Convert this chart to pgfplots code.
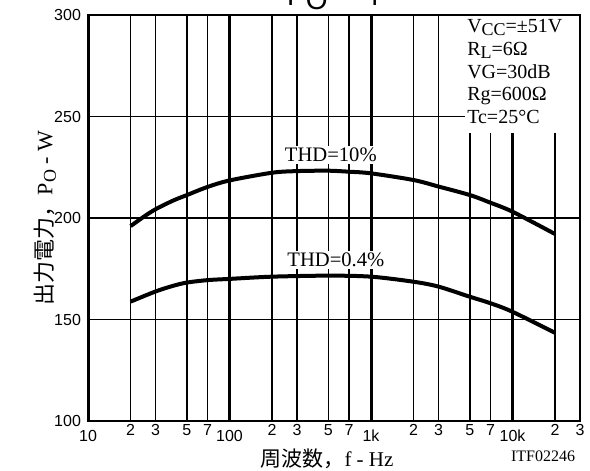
\documentclass[border=0pt]{standalone}
\usepackage{pgfplots}
\pgfplotsset{compat=1.18}
\usepackage{fontspec}
\setmainfont{Liberation Serif}
\setsansfont{Liberation Sans}
\newfontfamily\cjk{Noto Sans CJK JP}
\usetikzlibrary{calc}
\newcommand\lsub[2]{\raisebox{-0.35ex}{\fontsize{#1}{#1}\selectfont #2}}
\begin{document}
\begin{tikzpicture}
\begin{axis}[
  scale only axis, width=246pt, height=203pt,
  xmode=log, xmin=10, xmax=30000, ymin=100, ymax=300,
  axis line style={line width=1.4pt},
  xtick={20,30,50,70,200,300,500,700,2000,3000,5000,7000,20000,30000},
  xticklabels={2,3,5,7,2,3,5,7,2,3,5,7,2,3},
  extra x ticks={10,100,1000,10000},
  extra x tick labels={10,100,1k,10k},
  extra x tick style={xmajorgrids=true, major grid style={black,line width=1.5pt}, tick label style={yshift=-2.8pt}},
  ytick={100,150,200,250,300},
  yticklabels={100,150,200,250,300},
  xmajorgrids=true, ymajorgrids=true,
  major grid style={black, line width=0.85pt},
  major tick length=0pt, minor tick num=0,
  tick label style={font=\sffamily\fontsize{8}{9}\selectfont},
  xticklabel style={inner sep=1.5pt},
  xtick align=inside, ytick align=inside,
]
\addplot[black, line width=2pt, smooth] coordinates {
 (20,196) (25,200.8) (30,204.3) (40,208.6) (50,211.3) (70,215.3) (100,218.5) (200,222.3) (300,223.1) (500,223.3) (700,222.8) (1000,222) (2000,218.7) (3000,215.5) (5000,211.3) (7000,207.5) (10000,203.1) (20000,192.1)};
\addplot[black, line width=2pt, smooth] coordinates {
 (20,158.8) (30,163.8) (40,166.6) (50,168.2) (70,169.4) (100,170) (200,171.1) (500,171.6) (1000,171.1) (2000,168.6) (3000,166.2) (5000,161.2) (7000,158) (10000,153.8) (20000,143.4)};
\node[fill=white, inner sep=1pt, font=\fontsize{10.3}{11}\selectfont] at (axis cs:520,231) {THD=10\%};
\node[fill=white, inner sep=1pt, font=\fontsize{10.3}{11}\selectfont] at (axis cs:565,179.3) {THD=0.4\%};
\fill[white] (rel axis cs:0.766,0.709) rectangle (rel axis cs:1,1);
\node[anchor=north west, align=left, inner sep=0pt, font=\fontsize{10}{11.4}\selectfont] at (rel axis cs:0.77,1) [yshift=-2pt] {V\lsub{9}{CC}=±51V\\R\lsub{9}{L}=6Ω\\VG=30dB\\Rg=600Ω\\Tc=25°C};
\end{axis}
\draw[line width=1.4pt] (current axis.south west) rectangle (current axis.north east);
\node[anchor=base west, font=\sffamily\fontsize{14}{14}\selectfont] at ($(current axis.north west)+(96pt,4.5pt)$) {P\raisebox{-2pt}{O}\hspace{0.5em}--\hspace{0.5em}f};
\node[font=\fontsize{8}{9}\selectfont, inner sep=0pt] at ($(current axis.south east)+(-18.5pt,-17.8pt)$) {ITF02246};
\node[rotate=90, font=\fontsize{11}{12}\selectfont] at ($(current axis.west)+(-21.5pt,0)$) {{\cjk 出力電力，}P\lsub{9}{O} - W};
\node[font=\fontsize{10.5}{11}\selectfont, inner sep=0pt] at ($(current axis.south)+(-3.5pt,-19pt)$) {{\cjk 周波数，}f - Hz};
\pgfresetboundingbox
\path[use as bounding box] ($(current axis.south west)+(-44pt,-24.5pt)$) rectangle ($(current axis.north east)+(5pt,7.5pt)$);
\end{tikzpicture}
\end{document}
